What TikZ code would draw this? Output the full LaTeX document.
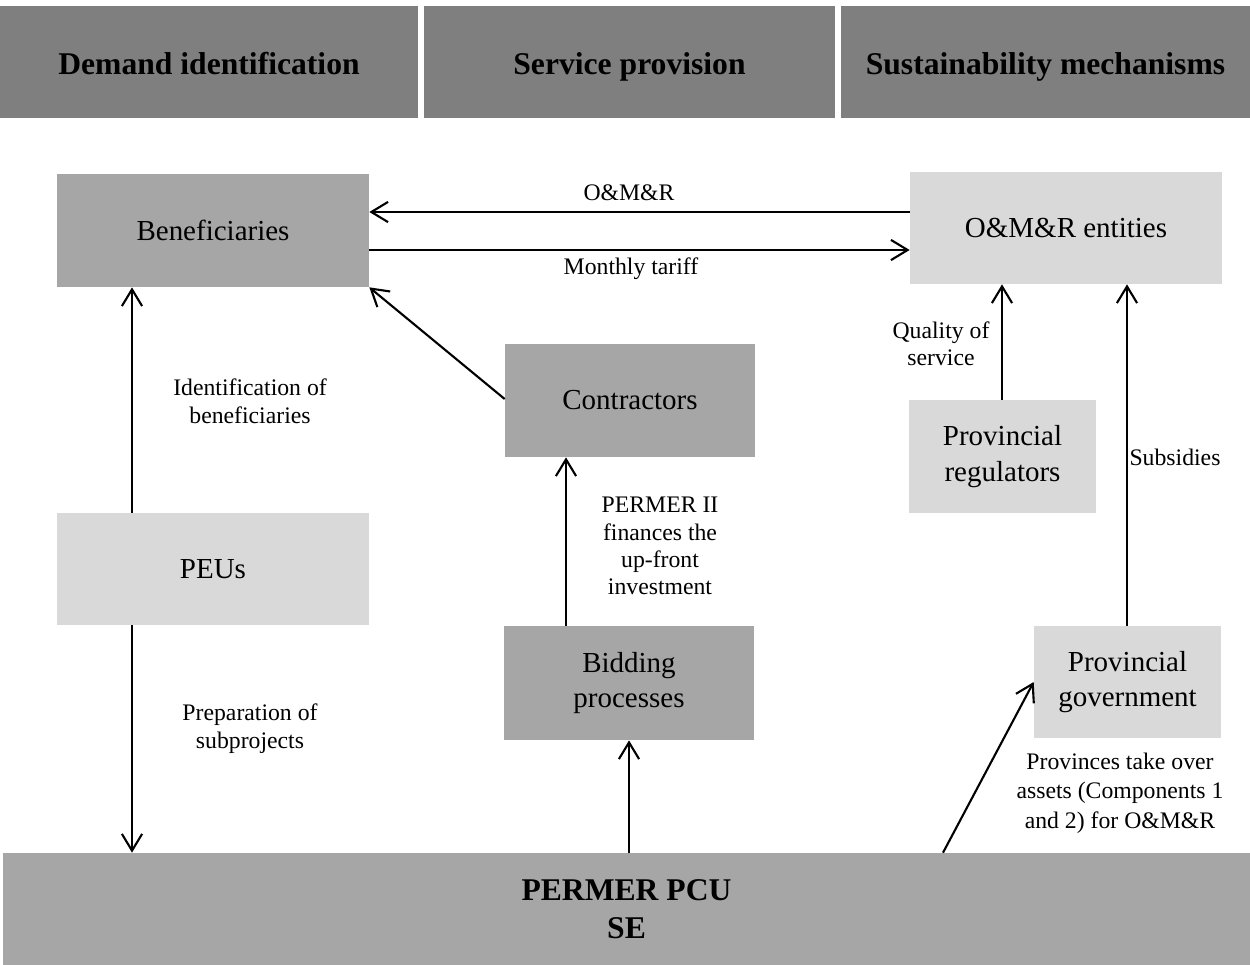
\documentclass[tikz,border=0pt]{standalone}
\usepackage{fontspec}
\setmainfont{Liberation Serif}
\usetikzlibrary{arrows.meta}
\definecolor{headgray}{HTML}{7F7F7F}
\definecolor{boxdark}{HTML}{A6A6A6}
\definecolor{boxlight}{HTML}{D9D9D9}
\begin{document}
\begin{tikzpicture}[x=0.02cm,y=-0.02cm,
 box/.style={draw=none,inner sep=0pt,align=center,font=\fontsize{16.5}{20}\selectfont},
 dark/.style={box,fill=boxdark},
 light/.style={box,fill=boxlight},
 head/.style={inner sep=0pt,fill=headgray,align=center,text height=1.45em,text depth=0em,font=\fontsize{18}{21.5}\selectfont\bfseries},
 lbl/.style={inner sep=0pt,align=center,font=\fontsize{13.5}{16}\selectfont},
 arr/.style={-{Straight Barb[length=9.5pt,width=11.5pt]},line width=1.2pt}]
\useasboundingbox (0,0) rectangle (1250,964);

% headers
\node[head,minimum width=8.36cm,minimum height=2.24cm] (h1) at (209,62) {Demand identification};
\node[head,minimum width=8.22cm,minimum height=2.24cm] (h2) at (629.5,62) {Service provision};
\node[head,minimum width=8.18cm,minimum height=2.24cm] (h3) at (1045.5,62) {Sustainability mechanisms};

% boxes
\node[dark,minimum width=6.24cm,minimum height=2.26cm] (ben) at (213,230.5) {Beneficiaries};
\node[light,minimum width=6.24cm,minimum height=2.24cm] (omr) at (1066,228) {O\&M\&R entities};
\node[dark,minimum width=5cm,minimum height=2.26cm] (con) at (630,400.5) {Contractors};
\node[dark,minimum width=5cm,minimum height=2.28cm] (bid) at (629,683) {Bidding\\processes};
\node[light,minimum width=3.74cm,minimum height=2.26cm] (reg) at (1002.5,456.5) {Provincial\\regulators};
\node[light,minimum width=3.74cm,minimum height=2.24cm] (gov) at (1127.5,682) {Provincial\\government};
\node[light,minimum width=6.24cm,minimum height=2.24cm] (peu) at (213,569) {PEUs};
\node[box,fill=boxdark,minimum width=24.94cm,minimum height=2.24cm,font=\fontsize{18}{21.5}\selectfont\bfseries] (pcu) at (626.5,909) {PERMER PCU\\SE};

% labels
\node[lbl] (l1) at (629,193) {O\&M\&R};
\node[lbl] (l2) at (631,269) {Monthly tariff};
\node[lbl] (l3) at (250,401) {Identification of\\beneficiaries};
\node[lbl] (l4) at (250,729) {Preparation of\\subprojects};
\node[lbl,font=\fontsize{13.5}{15.5}\selectfont] (l5) at (660,546) {PERMER II\\finances the\\up-front\\investment};
\node[lbl,font=\fontsize{13.5}{15.5}\selectfont] (l6) at (941,344) {Quality of\\service};
\node[lbl] (l7) at (1175,457) {Subsidies};
\node[lbl,font=\fontsize{13.5}{16.7}\selectfont] (l8) at (1120,793) {Provinces take over\\assets (Components 1\\and 2) for O\&M\&R};

% connectors
\draw[arr] (omr.west |- 0,212) -- (ben.east |- 0,212);
\draw[arr] (ben.east |- 0,250) -- (omr.west |- 0,250);
\draw[arr] (con.west |- 0,399) -- (ben.south east);
\draw[arr] (132,0 |- peu.north) -- (132,0 |- ben.south);
\draw[arr] (132,0 |- peu.south) -- (132,0 |- pcu.north);
\draw[arr] (566,0 |- bid.north) -- (566,0 |- con.south);
\draw[arr] (bid.south |- pcu.north) -- (bid.south);
\draw[arr] (943,0 |- pcu.north) -- (gov.west);
\draw[arr] (1002,0 |- reg.north) -- (1002,0 |- omr.south);
\draw[arr] (1127,0 |- gov.north) -- (1127,0 |- omr.south);
\end{tikzpicture}
\end{document}
